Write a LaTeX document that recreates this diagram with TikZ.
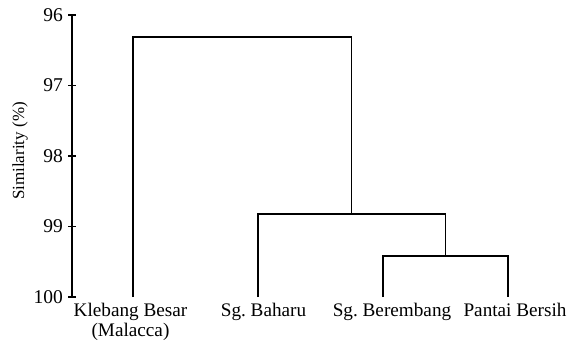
\documentclass[tikz,border=0pt]{standalone}
\usepackage{fontspec}
\setmainfont{Liberation Serif}
\frenchspacing
\begin{document}
\begin{tikzpicture}[x=1pt, y=-1pt,
  branch/.style={line width=1.6pt, line join=miter},
  ticklabel/.style={anchor=east, inner sep=0pt, font=\fontsize{19.5}{19.5}\selectfont},
  leaflabel/.style={anchor=north, inner sep=0pt, align=center, font=\fontsize{19.2}{20}\selectfont}]
\useasboundingbox (0,0) rectangle (569,343);
% axis
\coordinate (top) at (72,15);
\coordinate (bottom) at (72,297);
\draw[line width=1.6pt] (top) -- (bottom);
\foreach \v in {96,...,100} {
  \pgfmathsetmacro\ty{15+70.5*(\v-96)}
  \draw[line width=1.6pt] (68,\ty) -- (76,\ty);
  \node[ticklabel] (tick\v) at (63,\ty) {\v};
}
\node[rotate=90, inner sep=0pt, font=\fontsize{17}{17}\selectfont] (ylabel) at (20,151) {Similarity (\%)};
% leaves and merges
\coordinate (kb) at (133,297);
\coordinate (bh) at (258,297);
\coordinate (br) at (383,297);
\coordinate (pb) at (508,297);
\coordinate (m3) at (445.5,256);
\coordinate (m2) at (351.5,214);
\coordinate (m1) at (242,37);
\draw[branch] (br) |- (m3) -| (pb);
\draw[branch] (bh) |- (m2) -| (m3);
\draw[branch] (kb) |- (m1) -| (m2);
% labels
\node[leaflabel] (kblabel) at (130.5,303) {Klebang Besar\\(Malacca)};
\node[leaflabel] (bhlabel) at (263.5,303) {Sg. Baharu};
\node[leaflabel] (brlabel) at (392,303) {Sg. Berembang};
\node[leaflabel] (pblabel) at (515,303) {Pantai Bersih};
\end{tikzpicture}
\end{document}
